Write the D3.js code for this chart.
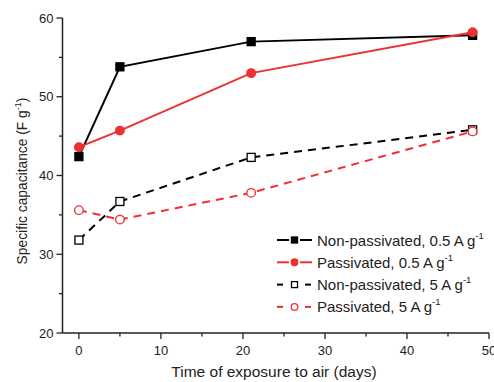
<!DOCTYPE html>
<html>
<head>
<meta charset="utf-8">
<script src="https://cdn.jsdelivr.net/npm/d3@7"></script>
<style>
  body { margin: 0; background: #fff; }
  text { font-family: "Liberation Sans", Arial, sans-serif; fill: #222; }
</style>
</head>
<body>
<script>
const days = [0, 5, 21, 48];
const nonPass05 = [42.4, 53.8, 57.0, 57.8];
const pass05 = [43.6, 45.7, 53.0, 58.2];
const nonPass5 = [31.8, 36.7, 42.3, 45.8];
const pass5 = [35.6, 34.4, 37.8, 45.6];
const seriesNames = ['Non-passivated, 0.5 A g', 'Passivated, 0.5 A g', 'Non-passivated, 5 A g', 'Passivated, 5 A g'];
const xTicks = [0, 10, 20, 30, 40, 50];
const yTicks = [20, 30, 40, 50, 60];

const w = 494;
const h = 382;
const red = '#ee3030';

const series = [
  { name: seriesNames[0], values: nonPass05, color: '#000', dashed: false, shape: 'square', filled: true },
  { name: seriesNames[1], values: pass05, color: red, dashed: false, shape: 'circle', filled: true },
  { name: seriesNames[2], values: nonPass5, color: '#000', dashed: true, shape: 'square', filled: false },
  { name: seriesNames[3], values: pass5, color: red, dashed: true, shape: 'circle', filled: false }
];

const x = d3.scaleLinear().domain([-2, 50]).range([62.5, 489]);
const y = d3.scaleLinear().domain([20, 60]).range([333, 18]);

const svg = d3.select('body').append('svg')
  .attr('width', w)
  .attr('height', h);

// axes
const xAxis = svg.append('g').attr('transform', `translate(0,${y(20)})`);
xAxis.append('line')
  .attr('x1', x(-2)).attr('x2', x(50))
  .attr('stroke', '#222').attr('stroke-width', 1.5);
xAxis.selectAll('line.tick')
  .data(d3.range(0, 51, 5))
  .enter().append('line')
    .attr('x1', d => x(d)).attr('x2', d => x(d))
    .attr('y1', 0).attr('y2', d => d % 10 === 0 ? 6 : 3.5)
    .attr('stroke', '#222').attr('stroke-width', 1.3);
xAxis.selectAll('text')
  .data(xTicks)
  .enter().append('text')
    .attr('x', d => x(d))
    .attr('y', 22)
    .attr('text-anchor', 'middle')
    .style('font-size', '13px')
    .text(d => d);

const yAxis = svg.append('g').attr('transform', `translate(${x(-2)},0)`);
yAxis.append('line')
  .attr('y1', y(20)).attr('y2', y(60))
  .attr('stroke', '#222').attr('stroke-width', 1.5);
yAxis.selectAll('line.tick')
  .data(d3.range(20, 61, 5))
  .enter().append('line')
    .attr('y1', d => y(d)).attr('y2', d => y(d))
    .attr('x1', 0).attr('x2', d => d % 10 === 0 ? -6 : -3.5)
    .attr('stroke', '#222').attr('stroke-width', 1.3);
yAxis.selectAll('text')
  .data(yTicks)
  .enter().append('text')
    .attr('x', -9)
    .attr('y', d => y(d) + 4.5)
    .attr('text-anchor', 'end')
    .style('font-size', '13px')
    .text(d => d);

// axis titles
svg.append('text')
  .attr('x', 274)
  .attr('y', 377)
  .attr('text-anchor', 'middle')
  .style('font-size', '15.5px')
  .text('Time of exposure to air (days)');

const yTitle = svg.append('text')
  .attr('transform', `translate(27,181) rotate(-90)`)
  .attr('text-anchor', 'middle')
  .style('font-size', '13.8px');
yTitle.append('tspan').text('Specific capacitance (F g');
yTitle.append('tspan').attr('dy', -6).style('font-size', '9px').text('-1');
yTitle.append('tspan').attr('dy', 6).text(')');

// lines
const line = d3.line()
  .x((d, i) => x(days[i]))
  .y(d => y(d));

svg.selectAll('path.series')
  .data(series)
  .enter().append('path')
    .attr('class', 'series')
    .attr('d', d => line(d.values))
    .attr('fill', 'none')
    .attr('stroke', d => d.color)
    .attr('stroke-width', 2)
    .attr('stroke-dasharray', d => d.dashed ? '8,6' : null);

function drawMarker(g, s, cx, cy, size) {
  if (s.shape === 'square') {
    g.append('rect')
      .attr('x', cx - size).attr('y', cy - size)
      .attr('width', size * 2).attr('height', size * 2)
      .attr('fill', s.filled ? s.color : '#fff')
      .attr('stroke', s.color)
      .attr('stroke-width', 1.3);
  } else {
    g.append('circle')
      .attr('cx', cx).attr('cy', cy)
      .attr('r', size + 0.3)
      .attr('fill', s.filled ? s.color : '#fff')
      .attr('stroke', s.color)
      .attr('stroke-width', 1.3);
  }
}

series.forEach(s => {
  const g = svg.append('g');
  s.values.forEach((v, i) => drawMarker(g, s, x(days[i]), y(v), 4));
});

// legend
const legend = svg.append('g');
series.forEach((s, i) => {
  const ly = 240 + i * 22.3;
  const g = legend.append('g');
  const segs = s.dashed ? [[277, 283], [305, 311]] : [[277, 289], [300, 312]];
  segs.forEach(sg => {
    g.append('line')
      .attr('x1', sg[0]).attr('x2', sg[1])
      .attr('y1', ly).attr('y2', ly)
      .attr('stroke', s.color)
      .attr('stroke-width', 2);
  });
  drawMarker(g, s, 294.5, ly, 3);
  const t = g.append('text')
    .attr('x', 317)
    .attr('y', ly + 5.5)
    .style('font-size', '15px');
  t.append('tspan').text(s.name);
  t.append('tspan').attr('dy', -7).style('font-size', '9.5px').text('-1');
});
</script>
</body>
</html>
